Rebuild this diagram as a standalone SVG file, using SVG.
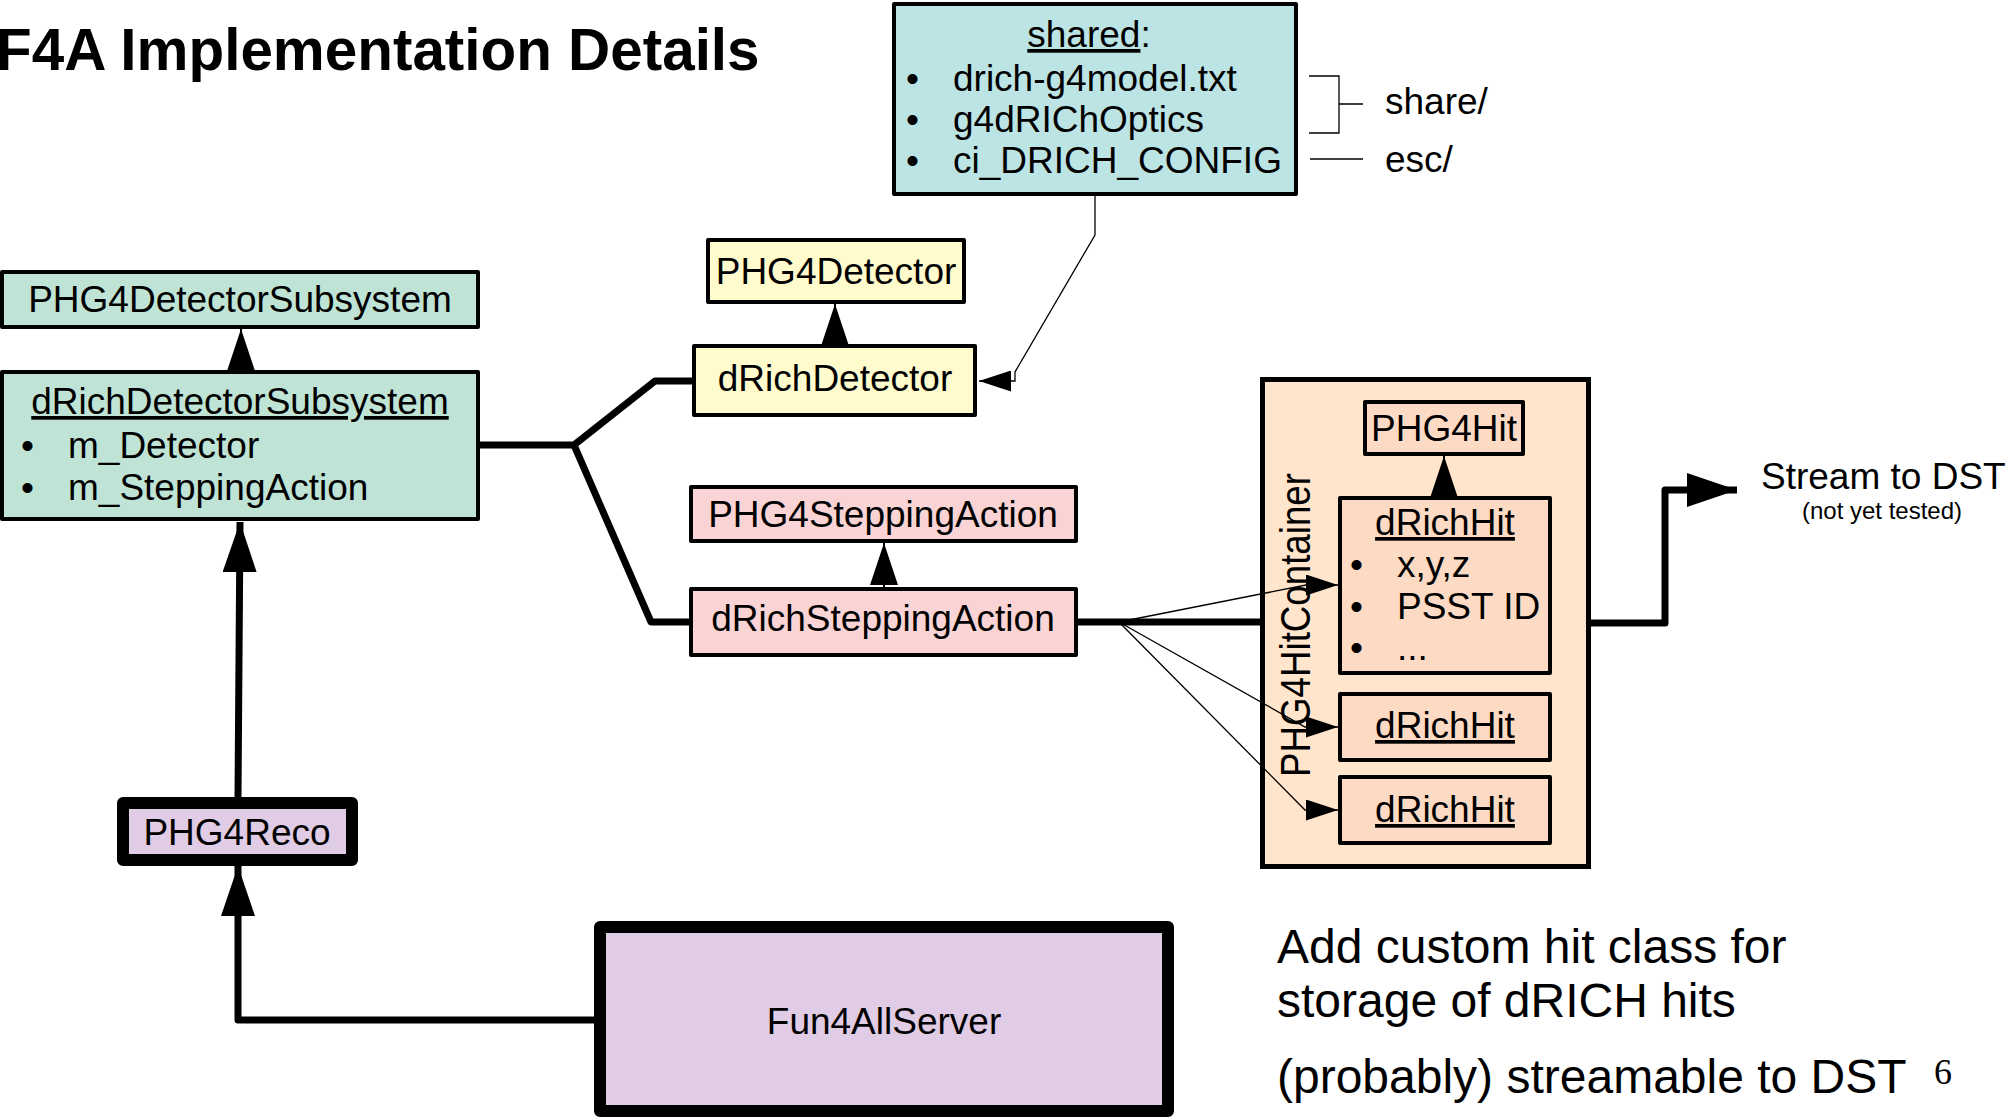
<svg xmlns="http://www.w3.org/2000/svg" width="2006" height="1119" viewBox="0 0 2006 1119">
  <style>
    text { font-family: "Liberation Sans", Arial, sans-serif; fill: #000; }
    .lbl { font-size: 37px; }
    .mid { text-anchor: middle; }
    .u { text-decoration: underline; }
    .box { stroke: #000; stroke-width: 4; stroke-linejoin: round; }
    .heavy { stroke: #000; stroke-width: 12; stroke-linejoin: round; }
    .mint { fill: #bfe3d4; }
    .cyan { fill: #bce4e4; }
    .yellow { fill: #fffbcd; }
    .pink { fill: #fad4d4; }
    .peach { fill: #ffe5cc; }
    .hit { fill: #fddac4; }
    .lilac { fill: #e0cce4; }
    .thick { fill: none; stroke: #000; stroke-width: 7; stroke-linejoin: round; }
    .thin { fill: none; stroke: #000; stroke-width: 1.3; }
  </style>
  <defs>
    <marker id="inherit" markerUnits="userSpaceOnUse" viewBox="0 0 42 28" refX="42" refY="14" markerWidth="42" markerHeight="28" orient="auto">
      <path d="M0,0 L42,14 L0,28 Z" fill="#000"/>
    </marker>
    <marker id="bigArrow" markerUnits="userSpaceOnUse" viewBox="0 0 50 34" refX="50" refY="17" markerWidth="50" markerHeight="34" orient="auto">
      <path d="M0,0 L50,17 L0,34 Z" fill="#000"/>
    </marker>
    <marker id="thinArrow" markerUnits="userSpaceOnUse" viewBox="0 0 32 21" refX="32" refY="10.5" markerWidth="32" markerHeight="21" orient="auto">
      <path d="M0,0 L32,10.5 L0,21 Z" fill="#000"/>
    </marker>
  </defs>

  <rect width="2006" height="1119" fill="#fff"/>

  <text x="-4" y="70" font-size="58.4" font-weight="bold">F4A Implementation Details</text>

  <g id="shared">
    <rect class="box cyan" x="894" y="4" width="402" height="190"/>
    <text class="lbl mid" x="1089" y="47"><tspan class="u">shared</tspan>:</text>
    <text class="lbl" x="906" y="91">•</text>
    <text class="lbl" x="953" y="91">drich-g4model.txt</text>
    <text class="lbl" x="906" y="132">•</text>
    <text class="lbl" x="953" y="132">g4dRIChOptics</text>
    <text class="lbl" x="906" y="173">•</text>
    <text class="lbl" x="953" y="173">ci_DRICH_CONFIG</text>
  </g>
  <text class="lbl" x="1385" y="114">share/</text>
  <text class="lbl" x="1385" y="172">esc/</text>

  <g id="PHG4DetectorSubsystem">
    <rect class="box mint" x="2" y="272" width="476" height="55"/>
    <text class="lbl mid" x="240" y="312">PHG4DetectorSubsystem</text>
  </g>

  <g id="dRichDetectorSubsystem">
    <rect class="box mint" x="2" y="372" width="476" height="147"/>
    <text class="lbl mid u" x="240" y="414">dRichDetectorSubsystem</text>
    <text class="lbl" x="21" y="458">•</text>
    <text class="lbl" x="68" y="458">m_Detector</text>
    <text class="lbl" x="21" y="500">•</text>
    <text class="lbl" x="68" y="500">m_SteppingAction</text>
  </g>

  <g id="PHG4Detector">
    <rect class="box yellow" x="708" y="240" width="256" height="62"/>
    <text class="lbl mid" x="836" y="284">PHG4Detector</text>
  </g>

  <g id="dRichDetector">
    <rect class="box yellow" x="694" y="346" width="281" height="69"/>
    <text class="lbl mid" x="835" y="391">dRichDetector</text>
  </g>

  <g id="PHG4SteppingAction">
    <rect class="box pink" x="691" y="487" width="385" height="54"/>
    <text class="lbl mid" x="883" y="527">PHG4SteppingAction</text>
  </g>

  <g id="dRichSteppingAction">
    <rect class="box pink" x="691" y="589" width="385" height="66"/>
    <text class="lbl mid" x="883" y="631">dRichSteppingAction</text>
  </g>

  <g id="PHG4HitContainer">
    <rect class="peach" x="1262.5" y="379.5" width="326" height="487" stroke="#000" stroke-width="5"/>
    <text transform="translate(1310,625) rotate(-90)" class="mid" font-size="42" textLength="304" lengthAdjust="spacingAndGlyphs">PHG4HitContainer</text>
  </g>

  <g id="PHG4Hit">
    <rect class="box hit" x="1365" y="402" width="158" height="52"/>
    <text class="lbl mid" x="1444" y="441">PHG4Hit</text>
  </g>

  <g id="dRichHit1">
    <rect class="box hit" x="1340" y="498" width="210" height="175"/>
    <text class="lbl mid u" x="1445" y="535">dRichHit</text>
    <text class="lbl" x="1350" y="577">•</text>
    <text class="lbl" x="1397" y="577">x,y,z</text>
    <text class="lbl" x="1350" y="619">•</text>
    <text class="lbl" x="1397" y="619">PSST ID</text>
    <text class="lbl" x="1350" y="660">•</text>
    <text class="lbl" x="1397" y="660">...</text>
  </g>

  <g id="dRichHit2">
    <rect class="box hit" x="1340" y="694" width="210" height="66"/>
    <text class="lbl mid u" x="1445" y="738">dRichHit</text>
  </g>

  <g id="dRichHit3">
    <rect class="box hit" x="1340" y="777" width="210" height="66"/>
    <text class="lbl mid u" x="1445" y="822">dRichHit</text>
  </g>

  <g id="stream">
    <text class="lbl" x="1761" y="489">Stream to DST</text>
    <text class="mid" x="1882" y="519" font-size="24">(not yet tested)</text>
  </g>

  <g id="PHG4Reco">
    <rect class="heavy lilac" x="123" y="803" width="229" height="57"/>
    <text class="lbl mid" x="237" y="845">PHG4Reco</text>
  </g>

  <g id="Fun4AllServer">
    <rect class="heavy lilac" x="600" y="927" width="568" height="184"/>
    <text class="lbl mid" x="884" y="1034">Fun4AllServer</text>
  </g>

  <g id="notes" font-size="48">
    <text x="1277" y="963">Add custom hit class for</text>
    <text x="1277" y="1017">storage of dRICH hits</text>
    <text x="1277" y="1093">(probably) streamable to DST</text>
  </g>
  <text x="1943" y="1084" font-size="36" text-anchor="middle" style="font-family: 'Liberation Serif', 'Times New Roman', serif">6</text>

  <!-- connectors, drawn over the boxes -->
  <g id="connectors">
    <!-- subsystem owns detector and stepping action -->
    <path class="thick" d="M480,445 L574,445 L655,381 L694,381"/>
    <path class="thick" d="M574,445 L651,622 L691,622"/>
    <!-- stepping action fills the hit container -->
    <path class="thick" d="M1076,622 L1262,622"/>
    <!-- container streamed out -->
    <path class="thick" d="M1588,623 L1665,623 L1665,490 L1737,490" marker-end="url(#bigArrow)"/>
    <!-- server drives PHG4Reco, which drives the subsystem -->
    <path class="thick" d="M594,1020 L238,1020 L238,866" marker-end="url(#bigArrow)"/>
    <path class="thick" d="M238,797 L240,522" marker-end="url(#bigArrow)"/>
    <!-- inheritance -->
    <path d="M241,370 L241,329" stroke="#000" stroke-width="2" marker-end="url(#inherit)"/>
    <path d="M835,345 L835,304" stroke="#000" stroke-width="2" marker-end="url(#inherit)"/>
    <path d="M884,587 L884,543" stroke="#000" stroke-width="2" marker-end="url(#inherit)"/>
    <path d="M1444,496 L1444,456" stroke="#000" stroke-width="2" marker-end="url(#inherit)"/>
    <!-- shared configuration feeds the detector -->
    <path class="thin" d="M1095,196 L1095,235 L1015,372 L1015,381 L979,381" marker-end="url(#thinArrow)"/>
    <!-- stepping action creates hits -->
    <path class="thin" d="M1119,622 L1306,585 L1338,585" marker-end="url(#thinArrow)"/>
    <path class="thin" d="M1119,622 L1305,727 L1338,727" marker-end="url(#thinArrow)"/>
    <path class="thin" d="M1119,622 L1305,810 L1338,810" marker-end="url(#thinArrow)"/>
    <!-- install locations -->
    <path class="thin" stroke-width="2.5" d="M1309,76 L1339,76 L1339,133 L1309,133 M1339,104 L1363,104 M1310,159 L1363,159"/>
  </g>
</svg>
